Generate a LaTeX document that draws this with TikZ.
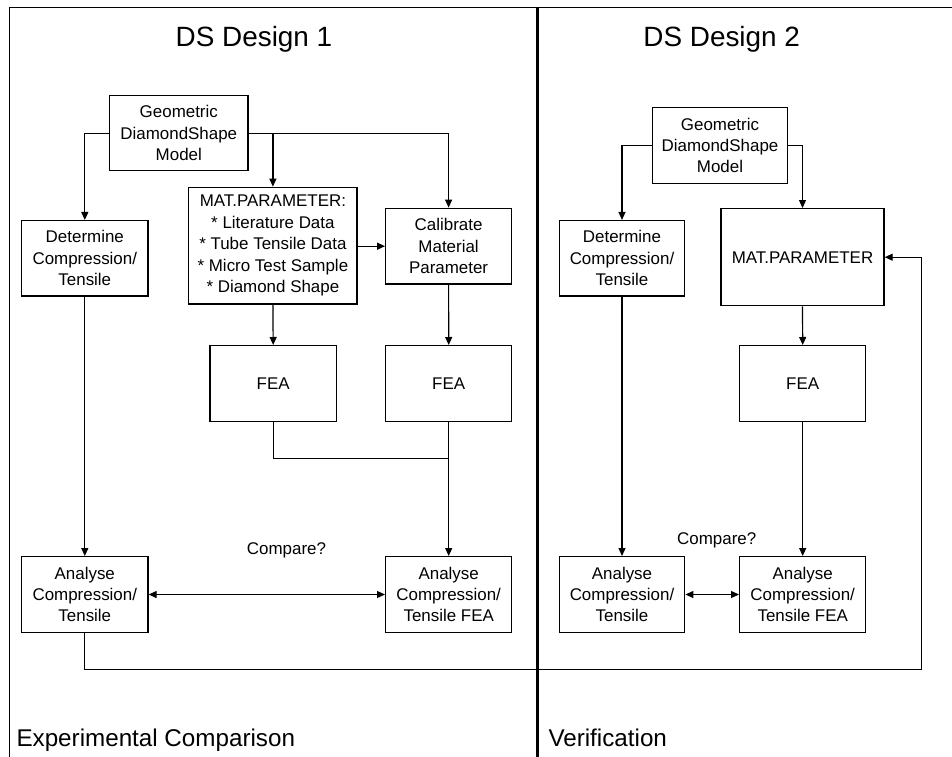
\documentclass[tikz,border=0pt]{standalone}
\usepackage{fontspec}
\setmainfont{Liberation Sans}
\usetikzlibrary{arrows.meta}
\begin{document}
\begin{tikzpicture}[x=1bp,y=-1bp,
  box/.style={draw,line width=1.4bp,align=center,inner sep=0pt,
    font=\fontsize{17}{21.5}\selectfont},
  conn/.style={line width=1.2bp},
  arr/.style={conn,-{Triangle[length=8bp,width=7bp]}},
  darr/.style={conn,{Triangle[length=8bp,width=7bp]}-{Triangle[length=8bp,width=7bp]}},
  title/.style={anchor=base,font=\fontsize{28}{30}\selectfont},
  section/.style={anchor=base west,font=\fontsize{24.3}{26}\selectfont},
  note/.style={font=\fontsize{17}{20}\selectfont}
]
\useasboundingbox (0,0) rectangle (952,757);
% frame
\draw[line width=1bp] (9,757) -- (9,8) -- (952,8);
\draw[line width=3bp] (537.8,8) -- (537.8,757);

% titles
\node[title] (t1) at (254,46.7) {DS Design 1};
\node[title] (t2) at (721.7,46.7) {DS Design 2};
\node[section] (s1) at (13,746.7) {Experimental Comparison};
\node[section] (s2) at (545,746.7) {Verification};

% Design 1
\node[box,minimum width=138.5bp,minimum height=75bp] (geo1) at (178.8,133.2) {Geometric\\DiamondShape\\Model};
\node[box,minimum width=126.3bp,minimum height=75.3bp] (det1) at (84.8,258.3) {Determine\\Compression/\\Tensile};
\node[box,minimum width=168.3bp,minimum height=116.7bp] (mat1) at (272.9,245.7) {MAT.PARAMETER:\\* Literature Data\\* Tube Tensile Data\\* Micro Test Sample\\* Diamond Shape};
\node[box,minimum width=125.7bp,minimum height=75.7bp] (cal1) at (448.6,246.2) {Calibrate\\Material\\Parameter};
\node[box,minimum width=126.4bp,minimum height=76bp] (fea1a) at (273.2,383.7) {FEA};
\node[box,minimum width=126bp,minimum height=76bp] (fea1b) at (448.7,383.7) {FEA};
\node[box,minimum width=126.3bp,minimum height=75.6bp] (ana1a) at (84.8,594.5) {Analyse\\Compression/\\Tensile};
\node[box,minimum width=126bp,minimum height=75.6bp] (ana1b) at (448.7,594.5) {Analyse\\Compression/\\Tensile FEA};
\node[note] (cmp1) at (286.5,550.7) {Compare?};

% Design 2
\node[box,minimum width=135.4bp,minimum height=75.6bp] (geo2) at (720,145.5) {Geometric\\DiamondShape\\Model};
\node[box,minimum width=125.4bp,minimum height=75.3bp] (det2) at (622,258.3) {Determine\\Compression/\\Tensile};
\node[box,minimum width=163bp,minimum height=97bp] (mat2) at (802.5,257.2) {MAT.PARAMETER};
\node[box,minimum width=126bp,minimum height=76bp] (fea2) at (802.7,383.7) {FEA};
\node[box,minimum width=125.4bp,minimum height=75.6bp] (ana2a) at (622,594.5) {Analyse\\Compression/\\Tensile};
\node[box,minimum width=126bp,minimum height=75.6bp] (ana2b) at (802.7,594.5) {Analyse\\Compression/\\Tensile FEA};
\node[note] (cmp2) at (716.7,540.7) {Compare?};

% connectors design 1
\draw[arr] (geo1.west) -| (det1.north);
\draw[arr] (geo1.east) -| (cal1.north);
\draw[arr] (geo1.east -| mat1.north) -- (mat1.north);
\draw[arr] (mat1.east |- cal1.west) -- (cal1.west);
\draw[arr] (mat1.south) -- (fea1a.north);
\draw[arr] (cal1.south) -- (fea1b.north);
\coordinate (j1) at (448.7,458.3);
\draw[conn] (fea1a.south) |- (j1);
\draw[arr] (fea1b.south) -- (ana1b.north);
\draw[arr] (det1.south) -- (ana1a.north);
\draw[darr] (ana1a.east) -- (ana1b.west);

% feedback
\coordinate (fb) at (921.7,669.3);
\draw[arr] (ana1a.south) |- (fb) |- (mat2.east);

% connectors design 2
\draw[arr] (geo2.west) -| (det2.north);
\draw[arr] (geo2.east) -| (mat2.north);
\draw[arr] (det2.south) -- (ana2a.north);
\draw[arr] (mat2.south) -- (fea2.north);
\draw[arr] (fea2.south) -- (ana2b.north);
\draw[darr] (ana2a.east) -- (ana2b.west);
\end{tikzpicture}
\end{document}
